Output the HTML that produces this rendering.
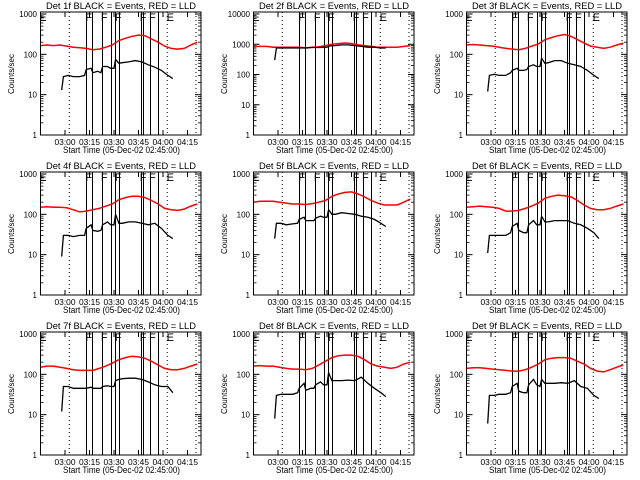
<!DOCTYPE html>
<html><head><meta charset="utf-8">
<style>
html,body{margin:0;padding:0;background:#fff;}
svg{display:block;font-family:"Liberation Sans",sans-serif;}
</style></head>
<body>
<svg id="chart" width="640" height="480" viewBox="0 0 640 480" xmlns="http://www.w3.org/2000/svg">
<rect width="640" height="480" fill="#fff"/>
</svg>
<script>
const detLabels = ["1f","2f","3f","4f","5f","6f","7f","8f","9f"];
const tickLabels = ["03:00","03:15","03:30","03:45","04:00","04:15"];
const tickMinutes = [15,30,45,60,75,90];
const redTimes = [0,4,8,12,16,20,24,28,32,36,40,44,48,52,56,60,64,68,72,76,80,84,88,92,96];
const red1 = [165,170,165,170,160,150,145,140,130,135,150,170,220,250,280,300,290,240,200,160,140,135,140,170,200];
const red2 = [850,850,850,800,800,800,800,790,750,800,820,900,1000,1050,1100,1050,950,900,850,800,800,800,800,850,900];
const red3 = [170,175,170,165,160,150,140,135,130,140,160,180,230,260,290,310,280,230,190,160,150,140,150,170,190];
const red4 = [150,155,150,150,145,130,115,120,130,140,160,180,230,260,280,280,260,220,180,140,130,125,135,160,180];
const red5 = [200,210,210,210,200,190,180,180,175,185,200,220,280,320,350,360,320,270,220,190,170,170,170,200,240];
const red6 = [150,155,160,155,150,140,120,120,125,140,160,190,250,280,300,290,270,220,170,140,130,130,140,160,180];
const red7 = [150,160,160,150,140,130,125,125,125,140,160,190,230,260,280,270,250,210,170,140,130,130,140,160,180];
const red8 = [160,165,160,160,150,140,135,135,130,140,170,210,260,290,300,300,280,230,180,160,150,140,150,180,200];
const red9 = [140,145,145,140,135,130,125,120,120,130,150,180,230,250,260,260,250,210,180,140,120,115,130,150,170];
const blackTimes = [13,14,17,20,24,27,28,31,32,35,37,38,41,43,45,46,48,50,54,58,62,66,70,74,78,81];
const black1 = [13,28,30,28,28,30,42,45,35,38,35,50,50,45,45,75,60,62,65,70,65,55,48,40,30,25];
const black2 = [300,750,750,750,750,750,750,750,750,780,780,780,780,800,800,850,900,900,950,950,900,850,800,800,750,750];
const black3 = [12,30,32,30,30,35,40,45,40,40,42,50,55,50,50,80,60,62,70,70,60,55,50,40,30,25];
const black4 = [9,30,30,28,30,30,45,55,40,38,40,55,65,55,55,100,60,60,65,65,60,55,60,45,30,25];
const black5 = [25,60,60,55,58,60,75,85,70,70,70,80,90,85,85,130,100,100,110,105,100,90,85,75,60,50];
const black6 = [11,30,30,30,30,35,50,60,40,35,35,55,70,55,55,90,65,65,70,70,70,60,55,45,35,25];
const black7 = [12,50,50,45,45,45,45,48,45,45,45,50,52,50,50,70,75,78,80,80,75,65,55,50,50,35];
const black8 = [8,30,32,32,32,35,45,60,40,45,45,55,65,55,55,110,70,70,70,72,70,85,60,45,35,28];
const black9 = [6,30,30,32,32,35,50,60,38,35,35,55,75,55,50,75,60,60,60,62,60,70,50,45,30,25];
const decades = [3,4,3,3,3,3,3,3,3];
const eventMinutes = [27.9,31.7,37.5,43.2,45.8,47.9,61.4,62.6,66.9,72.1];
const dottedMinutes = [17.6,77.6,95.2];
const markerLetters = ["E","F","F","F","F","F","E"];
const markerMinutes = [1.5,29.5,39,47.5,62.8,68.5,79.5];

const reds=[red1,red2,red3,red4,red5,red6,red7,red8,red9];
const blacks=[black1,black2,black3,black4,black5,black6,black7,black8,black9];
const NS="http://www.w3.org/2000/svg";
const svg=document.getElementById('chart');
function mk(tag,attrs,parent){const e=document.createElementNS(NS,tag);for(const k in attrs)e.setAttribute(k,attrs[k]);parent.appendChild(e);return e;}
const X0=40.5,X1=201,Y0=12,Y1=135,PXMIN=24.5/15;
function xs(t){return X0+t*PXMIN;}

for(let p=0;p<9;p++){
  const ox=(p%3)*213, oy=Math.floor(p/3)*160;
  const g=mk('g',{transform:`translate(${ox},${oy})`},svg);
  
  
  const nd=decades[p], dec=(Y1-14)/nd;
  const ys=v=>Y1-Math.log10(v)*dec;
  const t=mk('text',{x:46,y:9,'font-size':9,textLength:150,lengthAdjust:'spacingAndGlyphs',fill:'#000'},g);
  t.textContent='Det '+detLabels[p]+' BLACK = Events, RED = LLD';
  
  
  const yt=mk('text',{x:0,y:0,'font-size':8,'text-anchor':'middle',transform:'translate(14,74) rotate(-90)'},g);
  yt.textContent='Counts/sec';
  
  
  const xt=mk('text',{x:63,y:153,'font-size':9,textLength:117,lengthAdjust:'spacingAndGlyphs'},g);
  xt.textContent='Start Time (05-Dec-02 02:45:00)';
  
  
  for(let d=0;d<=nd;d++){
    const v=Math.pow(10,d), y=ys(v);
    const l=mk('text',{x:37,y:y+3,'font-size':8,'text-anchor':'end'},g);
    l.textContent=String(v);
    
    
    mk('line',{x1:X0,x2:X0+6,y1:y,y2:y,stroke:'#000'},g);
    mk('line',{x1:X1-6,x2:X1,y1:y,y2:y,stroke:'#000'},g);
    if(d<nd){for(let m=2;m<10;m++){const ym=ys(v*m);if(ym<Y0)break;
      mk('line',{x1:X0,x2:X0+3,y1:ym,y2:ym,stroke:'#000','stroke-width':0.8},g);
      mk('line',{x1:X1-3,x2:X1,y1:ym,y2:ym,stroke:'#000','stroke-width':0.8},g);}}
  }
  for(let i=0;i<tickMinutes.length;i++){
    const x=xs(tickMinutes[i]);
    mk('line',{x1:x,x2:x,y1:Y1,y2:Y1-5,stroke:'#000'},g);
    mk('line',{x1:x,x2:x,y1:Y0,y2:Y0+5,stroke:'#000'},g);
    const l=mk('text',{x:x,y:145,'font-size':8,'text-anchor':'middle',textLength:21,lengthAdjust:'spacingAndGlyphs'},g);
    l.textContent=tickLabels[i];
    
    
  }
  dottedMinutes.forEach(m=>{const x=xs(m);
    const d=mk('line',{x1:x,x2:x,y1:Y0,y2:Y1,stroke:'#000','stroke-dasharray':'1,3'},g);
    
    });
  eventMinutes.forEach(m=>{const x=Math.round(xs(m))+0.5;
    const d=mk('line',{x1:x,x2:x,y1:Y0,y2:Y1,stroke:'#000','stroke-width':1},g);
    
    });
  markerLetters.forEach((s,i)=>{
    const l=mk('text',{x:xs(markerMinutes[i]),y:Y0+9,'font-size':11,'text-anchor':'middle'},g);
    l.textContent=s;
    
    });
  const rp=redTimes.map((tm,i)=>xs(tm).toFixed(1)+','+ys(reds[p][i]).toFixed(1)).join(' ');
  const r=mk('polyline',{points:rp,fill:'none',stroke:'#ff0000','stroke-width':1.5},g);
  
  
  const bp=blackTimes.map((tm,i)=>xs(tm).toFixed(1)+','+ys(blacks[p][i]).toFixed(1)).join(' ');
  const b=mk('polyline',{points:bp,fill:'none',stroke:'#000','stroke-width':1.3},g);
  
  
  const bx=mk('rect',{x:X0,y:Y0,width:X1-X0,height:Y1-Y0,fill:'none',stroke:'#000','stroke-width':1},g);
  
  
}
</script>
</body></html>
